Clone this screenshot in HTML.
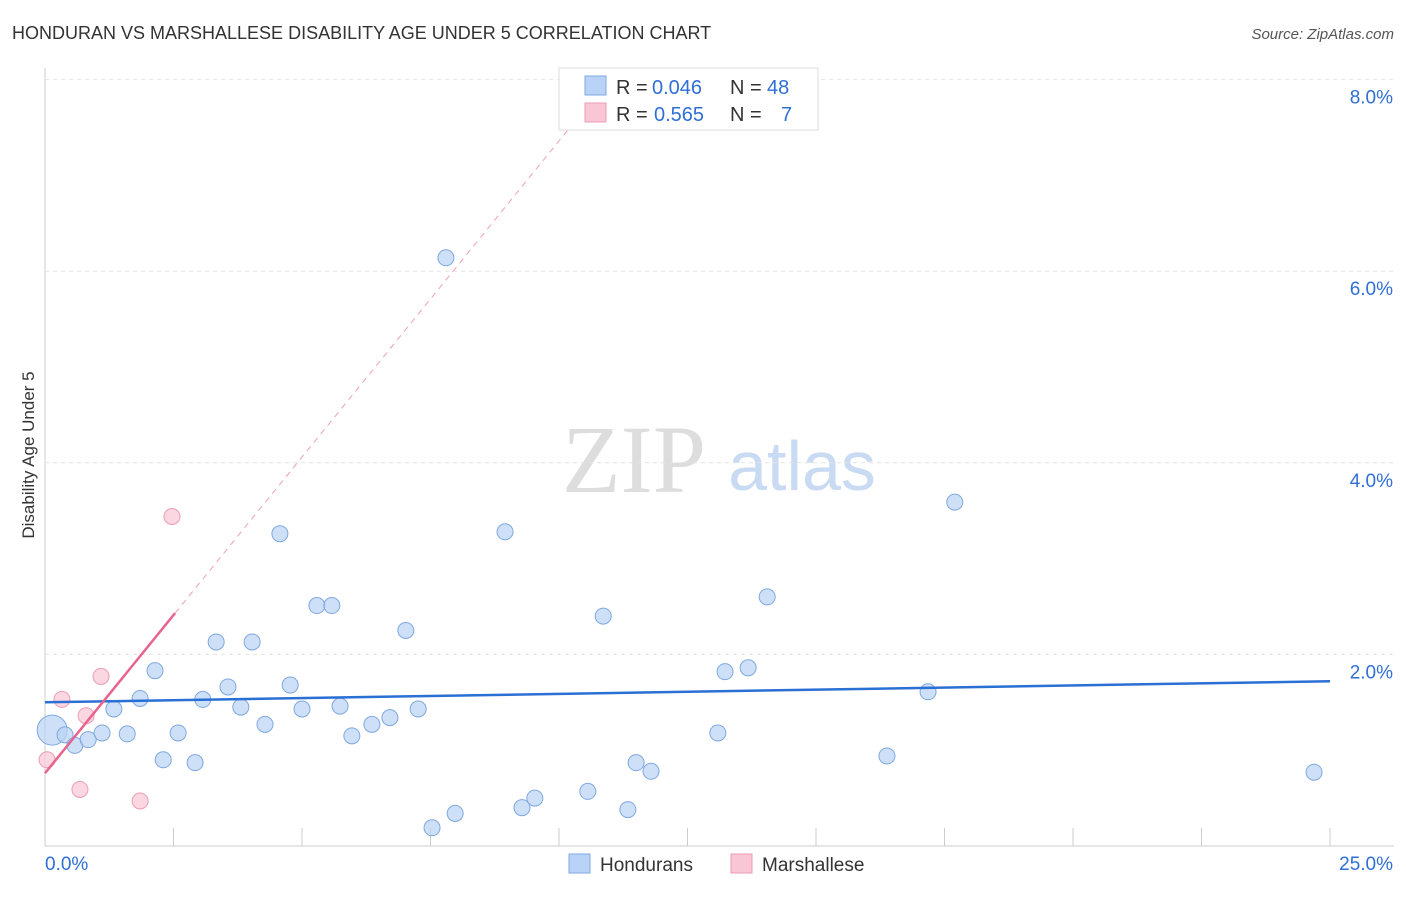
<!DOCTYPE html>
<html><head><meta charset="utf-8"><style>
body{margin:0;background:#fff;font-family:"Liberation Sans",sans-serif}
</style></head><body>
<svg id="c" width="1406" height="892" xmlns="http://www.w3.org/2000/svg" style="font-family:'Liberation Sans',sans-serif">
<text x="12" y="39" font-size="18" fill="#333">HONDURAN VS MARSHALLESE DISABILITY AGE UNDER 5 CORRELATION CHART</text>
<text x="1394" y="39" font-size="15" fill="#555" font-style="italic" text-anchor="end">Source: ZipAtlas.com</text>
<text x="634" y="492" font-size="96" fill="#ddd" font-family="Liberation Serif,serif" text-anchor="middle">ZIP</text>
<text x="802" y="490" font-size="70" fill="#c9daf3" text-anchor="middle">atlas</text>
<text transform="translate(34,455) rotate(-90)" font-size="17" fill="#333" text-anchor="middle">Disability Age Under 5</text>
<g id="grid"></g><g id="marks"></g>
<g>
<rect x="559" y="68" width="259" height="62" fill="#fff" stroke="#ddd"/>
<rect x="585" y="76" width="21" height="19" fill="#b8d3f5" stroke="#7fa8e0"/>
<rect x="585" y="103" width="21" height="19" fill="#f9c6d5" stroke="#ec9cb4"/>
<g font-size="20" fill="#333">
<text x="616" y="94">R =</text><text x="652" y="94" fill="#2f6fd6">0.046</text>
<text x="730" y="94">N =</text><text x="767" y="94" fill="#2f6fd6">48</text>
<text x="616" y="121">R =</text><text x="654" y="121" fill="#2f6fd6">0.565</text>
<text x="730" y="121">N =</text><text x="781" y="121" fill="#2f6fd6">7</text>
</g>
</g>
<g>
<rect x="569" y="854" width="21" height="19" fill="#b8d3f5" stroke="#7fa8e0"/>
<text x="600" y="871" font-size="19" fill="#333">Hondurans</text>
<rect x="731" y="854" width="21" height="19" fill="#f9c6d5" stroke="#ec9cb4"/>
<text x="762" y="871" font-size="19" fill="#333">Marshallese</text>
</g>
</svg>
<script>
const blueX=[0.14,0.39,0.58,0.84,1.11,1.34,1.60,1.85,2.14,2.30,2.59,2.92,3.07,3.33,3.56,3.81,4.03,4.28,4.57,4.77,5.00,5.29,5.58,5.74,5.97,6.36,6.71,7.02,7.26,7.53,7.80,7.98,8.95,9.28,9.53,10.56,10.86,11.34,11.50,11.79,13.09,13.23,13.68,14.05,16.38,17.18,17.70,24.69];
const blueY=[1.21,1.16,1.05,1.11,1.18,1.43,1.17,1.54,1.83,0.90,1.18,0.87,1.53,2.13,1.66,1.45,2.13,1.27,3.26,1.68,1.43,2.51,2.51,1.46,1.15,1.27,1.34,2.25,1.43,0.19,6.14,0.34,3.28,0.40,0.50,0.57,2.40,0.38,0.87,0.78,1.18,1.82,1.86,2.60,0.94,1.61,3.59,0.77];
const pinkX=[0.04,0.33,0.68,0.80,1.09,1.85,2.47];
const pinkY=[0.90,1.53,0.59,1.36,1.77,0.47,3.44];
const yTicks=[2,4,6,8];
const xTickLabels=["0.0%","25.0%"];
const blueTrend=[1.50,1.72];
const pinkTrend=[0.76,0.66];
const X=v=>45+v*51.4, Y=v=>846-v*95.8;
const NS="http://www.w3.org/2000/svg";
function mk(t,a,p){const e=document.createElementNS(NS,t);for(const k in a)e.setAttribute(k,a[k]);p.appendChild(e);return e;}
const g=document.getElementById('grid'),m=document.getElementById('marks');
let ax=mk('line',{x1:45,y1:68,x2:45,y2:846,stroke:'#ccc'},g);


let bx=mk('line',{x1:45,y1:846,x2:1394,y2:846,stroke:'#ccc'},g);


yTicks.forEach(v=>{
 let l=mk('line',{x1:45,y1:Y(v),x2:1394,y2:Y(v),stroke:'#e4e4e4','stroke-dasharray':'4,4'},g);
 
 
 let t=mk('text',{x:1393,y:Y(v)+24,'font-size':19,fill:'#2f6fd6','text-anchor':'end'},g);t.textContent=v.toFixed(1)+'%';
 
 
});
for(let i=1;i<=10;i++){let l=mk('line',{x1:X(i*2.5),y1:828,x2:X(i*2.5),y2:846,stroke:'#ccc'},g);
 
 }
let t0=mk('text',{x:45,y:870,'font-size':19,fill:'#2f6fd6'},g);t0.textContent=xTickLabels[0];


let t1=mk('text',{x:1393,y:870,'font-size':19,fill:'#2f6fd6','text-anchor':'end'},g);t1.textContent=xTickLabels[1];


blueX.forEach((x,i)=>{let c=mk('circle',{cx:X(x),cy:Y(blueY[i]),r:i==0?15:8,fill:'#b8d3f5','fill-opacity':0.7,stroke:'#7fa8e0'},m);
 
 });
pinkX.forEach((x,i)=>{let c=mk('circle',{cx:X(x),cy:Y(pinkY[i]),r:8,fill:'#f9c6d5','fill-opacity':0.7,stroke:'#ec9cb4'},m);
 
 });
let bl=mk('line',{x1:X(0),y1:Y(blueTrend[0]),x2:X(25),y2:Y(blueTrend[1]),stroke:'#2a6fd4','stroke-width':2.5},m);


const pe=(7.7-pinkTrend[0])/pinkTrend[1];
let pd=mk('line',{x1:X(2.53),y1:Y(pinkTrend[0]+pinkTrend[1]*2.53),x2:X(pe),y2:Y(7.7),stroke:'#f0a0b8','stroke-dasharray':'6,5'},m);


let pl=mk('line',{x1:X(0),y1:Y(pinkTrend[0]),x2:X(2.53),y2:Y(pinkTrend[0]+pinkTrend[1]*2.53),stroke:'#e8638e','stroke-width':2.5},m);


</script>
</body></html>
